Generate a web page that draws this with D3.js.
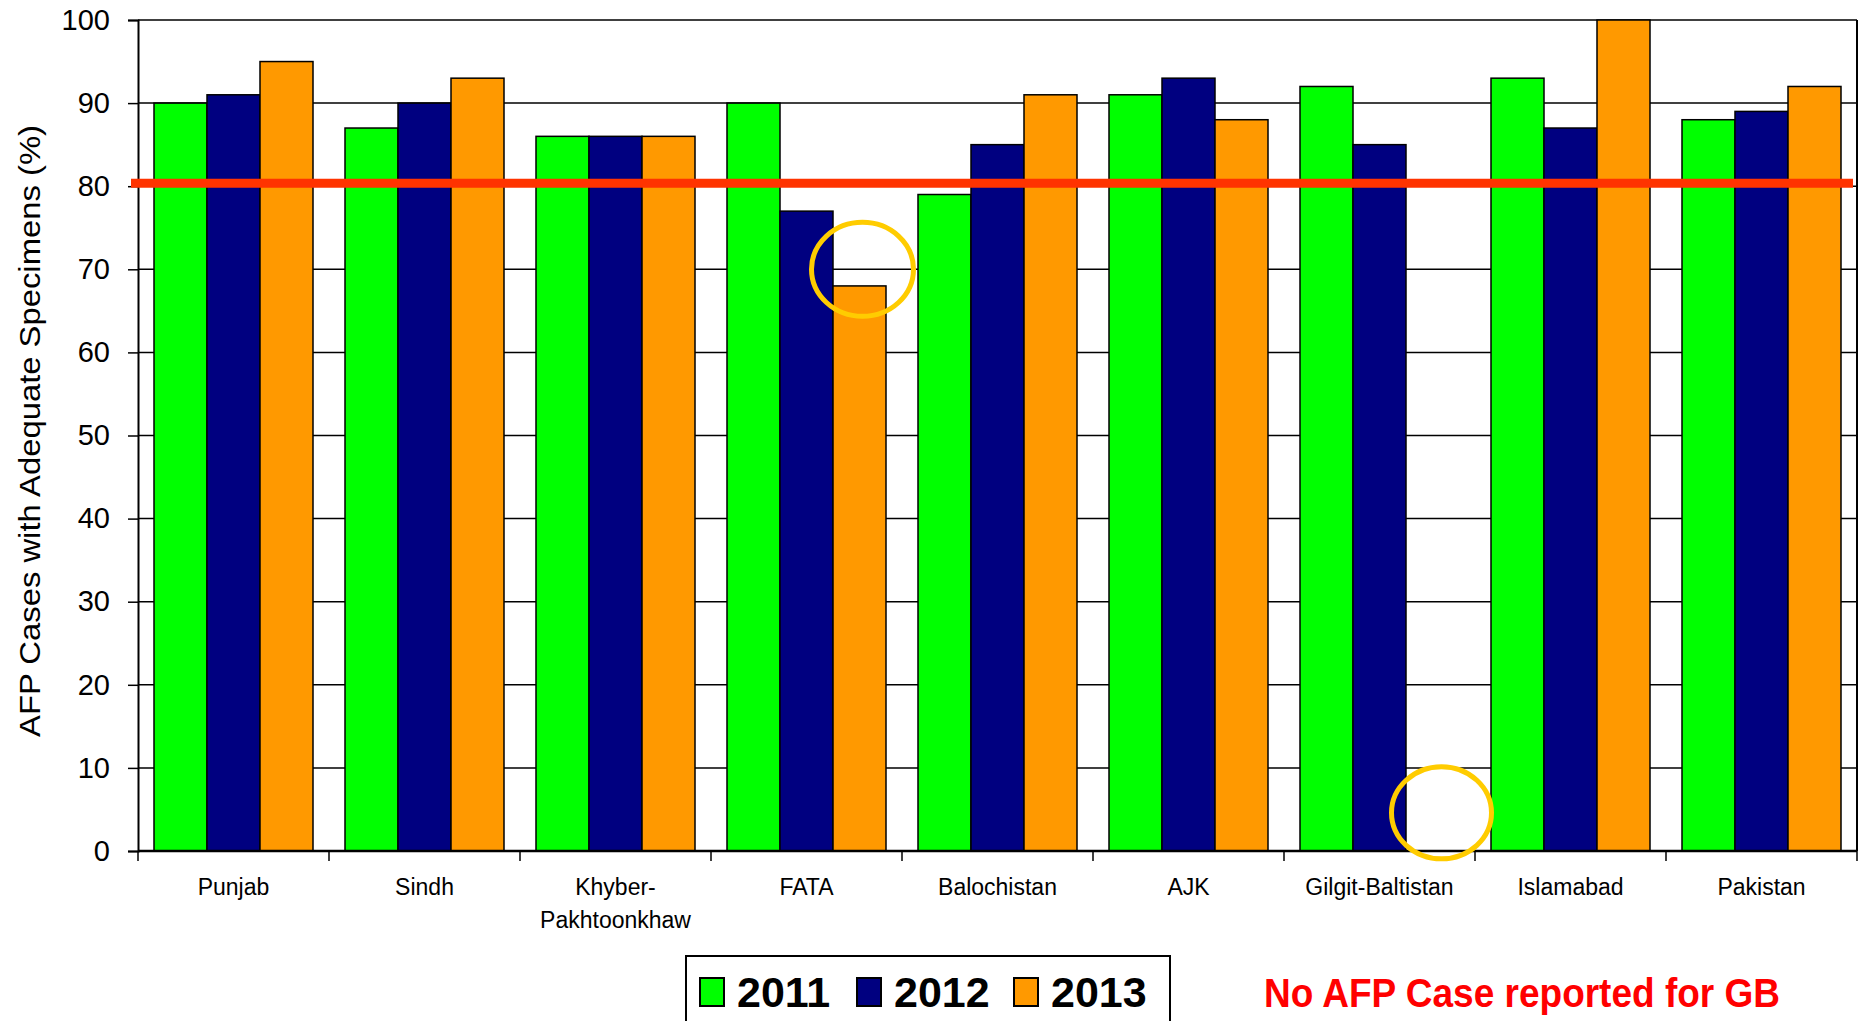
<!DOCTYPE html>
<html lang="en">
<head>
	<title>AFP Adequate Specimens</title>
	<script src="https://cdn.jsdelivr.net/npm/d3@7"></script>
	<style>
		body { margin: 0; background: #fff; }
		text { font-family: "Liberation Sans", Arial, sans-serif; fill: #000; }
		.bar { stroke: #000; stroke-width: 1.5; }
		.grid line { stroke: #000; stroke-width: 1.5; }
	</style>
</head>
<body>
	<div id="chart"></div>

	<script>
		// data
		var provinces = ["Punjab", "Sindh", "Khyber-\nPakhtoonkhaw", "FATA", "Balochistan", "AJK", "Gilgit-Baltistan", "Islamabad", "Pakistan"];
		var years = ["2011", "2012", "2013"];
		var v2011 = [90, 87, 86, 90, 79, 91, 92, 93, 88];
		var v2012 = [91, 90, 86, 77, 85, 93, 85, 87, 89];
		var v2013 = [95, 93, 86, 68, 91, 88, null, 100, 92];
		var yTicks = [0, 10, 20, 30, 40, 50, 60, 70, 80, 90, 100];
		var target = 80.35;
		var colors = ["#00FF00", "#000080", "#FF9900"];

		var w = 1866, h = 1021;
		var pL = 138, pR = 1857, pT = 20, pB = 851;

		var svg = d3.select("#chart").append("svg")
			.attr("width", w)
			.attr("height", h);

		svg.append("rect").attr("width", w).attr("height", h).attr("fill", "#fff");

		var x0 = d3.scaleBand().domain(provinces).range([pL, pR]).padding(0);
		var x1 = d3.scaleBand().domain(years).range([16, x0.bandwidth() - 16]).padding(0);
		var y = d3.scaleLinear().domain([0, 100]).range([pB, pT]);

		// gridlines
		svg.append("g").attr("class", "grid")
			.selectAll("line").data(yTicks.slice(1)).enter().append("line")
			.attr("x1", pL).attr("x2", pR)
			.attr("y1", function(d) { return y(d); })
			.attr("y2", function(d) { return y(d); });

		// right border
		svg.append("line")
			.attr("x1", pR).attr("x2", pR)
			.attr("y1", pT).attr("y2", pB)
			.attr("stroke", "#000").attr("stroke-width", 2);

		// bars
		var series = [v2011, v2012, v2013];
		var rows = [];
		series.forEach(function(vals, si) {
			vals.forEach(function(v, pi) {
				if (v != null) rows.push({ p: provinces[pi], yr: years[si], v: v, c: colors[si] });
			});
		});

		svg.selectAll(".bar").data(rows).enter().append("rect")
			.attr("class", "bar")
			.attr("x", function(d) { return x0(d.p) + x1(d.yr); })
			.attr("y", function(d) { return y(d.v); })
			.attr("width", x1.bandwidth())
			.attr("height", function(d) { return y(0) - y(d.v); })
			.attr("fill", function(d) { return d.c; });

		// y axis
		var yAxis = svg.append("g")
			.attr("transform", "translate(" + pL + ",0)")
			.call(d3.axisLeft(y).tickValues(yTicks).tickSize(10).tickPadding(18));
		yAxis.select(".domain").attr("stroke-width", 2);
		yAxis.selectAll(".tick line").attr("stroke-width", 1.5);
		yAxis.selectAll("text").attr("font-size", 29).attr("font-family", "Liberation Sans, Arial, sans-serif");

		// x axis with ticks at category boundaries
		var xAxis = svg.append("g").attr("transform", "translate(0," + pB + ")");
		xAxis.append("line").attr("x1", pL).attr("x2", pR)
			.attr("stroke", "#000").attr("stroke-width", 2.5);
		var bounds = provinces.map(function(p) { return x0(p); }).concat([pR]);
		xAxis.selectAll(".xt").data(bounds).enter().append("line")
			.attr("x1", function(d) { return d; }).attr("x2", function(d) { return d; })
			.attr("y1", 0).attr("y2", 10)
			.attr("stroke", "#000").attr("stroke-width", 1.5);

		var lab = xAxis.selectAll(".lab").data(provinces).enter().append("text")
			.attr("text-anchor", "middle")
			.attr("font-size", 23)
			.attr("transform", function(d) { return "translate(" + (x0(d) + x0.bandwidth() / 2) + ",44)"; });
		lab.selectAll("tspan").data(function(d) { return d.split("\n"); }).enter().append("tspan")
			.attr("x", 0)
			.attr("dy", function(d, i) { return i ? 33 : 0; })
			.text(function(d) { return d; });

		// target line
		svg.append("line")
			.attr("x1", pL - 7).attr("x2", pR - 4)
			.attr("y1", y(target)).attr("y2", y(target))
			.attr("stroke", "#FF3300").attr("stroke-width", 9);

		// highlight circles
		var marks = [{ p: "FATA", yr: "2013", v: 70, dx: 3, rx: 51, ry: 47 },
		             { p: "Gilgit-Baltistan", yr: "2013", v: 4.6, dx: 9, rx: 50, ry: 46 }];
		svg.selectAll(".mark").data(marks).enter().append("ellipse")
			.attr("cx", function(d) { return x0(d.p) + x1(d.yr) + x1.bandwidth() / 2 + d.dx; })
			.attr("cy", function(d) { return y(d.v); })
			.attr("rx", function(d) { return d.rx; })
			.attr("ry", function(d) { return d.ry; })
			.attr("fill", "none")
			.attr("stroke", "#FFCC00")
			.attr("stroke-width", 5);

		// y title
		svg.append("text")
			.attr("transform", "translate(40,431) rotate(-90)")
			.attr("text-anchor", "middle")
			.attr("font-size", 30)
			.attr("textLength", 612)
			.attr("lengthAdjust", "spacingAndGlyphs")
			.text("AFP Cases with Adequate Specimens (%)");

		// legend
		var lg = svg.append("g").attr("transform", "translate(686,956)");
		lg.append("rect").attr("width", 484).attr("height", 80)
			.attr("fill", "#fff").attr("stroke", "#000").attr("stroke-width", 2);
		var li = lg.selectAll(".li").data(years).enter().append("g")
			.attr("transform", function(d, i) { return "translate(" + (14 + i * 157) + ",0)"; });
		li.append("rect").attr("x", 0).attr("y", 22).attr("width", 24).attr("height", 28)
			.attr("fill", function(d, i) { return colors[i]; })
			.attr("stroke", "#000").attr("stroke-width", 2);
		li.append("text").attr("x", 37).attr("y", 51)
			.attr("font-size", 43).attr("font-weight", "bold")
			.text(function(d) { return d; });

		// note
		svg.append("text")
			.attr("x", 1264).attr("y", 1007)
			.attr("font-size", 41).attr("font-weight", "bold")
			.attr("textLength", 516).attr("lengthAdjust", "spacingAndGlyphs")
			.style("fill", "#FF0000")
			.text("No AFP Case reported for GB");
	</script>
</body>
</html>
